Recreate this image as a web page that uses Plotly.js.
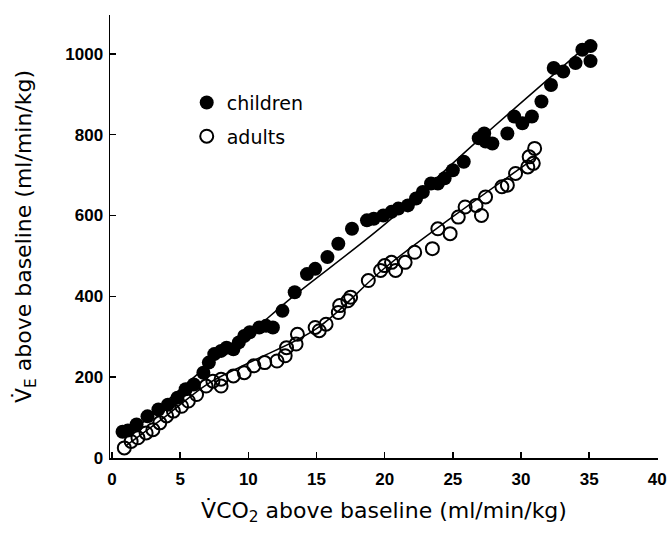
<!DOCTYPE html>
<html>
<head>
<meta charset="utf-8">
<script src="https://cdn.plot.ly/plotly-3.0.1.min.js"></script>
<style>html,body{margin:0;padding:0;background:#fff;}#chart{width:670px;height:540px;}</style>
</head>
<body>
<div id="chart"></div>
<script>
// children (filled circles)
var childrenX = [0.77,1.16,1.8,2.6,3.4,4.1,4.8,5.4,6.0,6.7,7.1,7.5,8.0,8.4,8.9,9.3,9.7,10.1,10.8,11.3,11.8,12.5,13.4,14.3,14.9,15.8,16.6,17.6,18.7,19.2,19.9,20.5,21.0,21.7,22.3,22.8,23.4,23.9,24.4,25.0,25.8,26.9,27.3,27.4,27.9,29.0,29.5,30.1,30.8,31.5,32.2,32.4,33.1,34.0,34.5,35.1,35.1];
var childrenY = [65,68,83,103,120,132,149,170,182,211,236,257,265,273,269,286,302,311,323,327,323,364,410,455,468,497,530,567,588,592,600,609,617,625,642,658,679,679,692,712,733,791,803,783,778,803,845,828,845,882,923,965,956,977,1010,1019,982];
// adults (open circles)
var adultsX = [0.9,1.4,1.9,2.5,3.0,3.5,4.0,4.5,5.1,5.6,6.2,6.9,7.4,8.0,8.0,8.9,9.7,10.4,11.2,12.1,12.7,12.8,13.5,13.6,14.9,15.2,15.7,16.6,16.7,17.3,17.5,18.8,19.7,20.0,20.5,20.8,21.5,22.2,23.5,23.9,24.8,25.4,25.9,26.7,27.1,27.4,28.6,29.0,29.6,30.5,30.6,30.9,31.0];
var adultsY = [25,41,50,62,70,87,104,116,128,141,157,178,190,195,178,203,211,228,236,240,253,273,282,306,323,315,331,360,377,389,398,439,464,476,484,464,484,509,518,567,555,596,621,625,600,646,671,675,704,720,745,729,766];
// fitted curves
var childrenFitX = [2.0,7.0,10.0,13.0,20.0,27.0,34.8];
var childrenFitY = [80,228,305,392,578,790,1019];
var adultsFitX = [1.0,4.0,7.0,10.0,15.0,20.0,25.0,31.0];
var adultsFitY = [30,105,183,235,320,470,597,742];
var xTicks = [0,5,10,15,20,25,30,35,40];
var yTicks = [0,200,400,600,800,1000];

var fontFam = '"DejaVu Sans", "Liberation Sans", sans-serif';
var tickFont = {family: '"Liberation Sans", Arial, sans-serif', size: 17, weight: 'bold'};
var traces = [
  {x: childrenFitX, y: childrenFitY, mode: 'lines', line: {color: '#000', width: 1.5, shape: 'spline'}, showlegend: false, hoverinfo: 'skip'},
  {x: adultsFitX, y: adultsFitY, mode: 'lines', line: {color: '#000', width: 1.5, shape: 'spline'}, showlegend: false, hoverinfo: 'skip'},
  {x: childrenX, y: childrenY, mode: 'markers', name: 'children', legendgroup: 'c',
   marker: {symbol: 'circle', size: 14, color: '#000', line: {width: 0}}},
  {x: adultsX, y: adultsY, mode: 'markers', name: 'adults', legendgroup: 'a',
   marker: {symbol: 'circle-open', size: 13, color: '#000', line: {width: 2, color: '#000'}}}
];
var layout = {
  width: 670, height: 540,
  margin: {l: 110, r: 12, t: 15, b: 82},
  paper_bgcolor: '#fff', plot_bgcolor: '#fff',
  font: {family: fontFam, color: '#000'},
  xaxis: {
    range: [-0.15, 40.05], tickvals: xTicks, ticktext: xTicks.map(String),
    showline: true, linecolor: '#000', linewidth: 1.5, mirror: false,
    ticks: 'inside', ticklen: 6, tickwidth: 1.5, tickcolor: '#000',
    showgrid: false, zeroline: false, automargin: false,
    ticklabelstandoff: 5,
    tickfont: tickFont,
    title: {text: 'V\u0307CO<sub>2</sub> above baseline (ml/min/kg)', font: {family: fontFam, size: 22}, standoff: 14}
  },
  yaxis: {
    range: [0, 1096], tickvals: yTicks, ticktext: yTicks.map(String),
    showline: true, linecolor: '#000', linewidth: 1.5, mirror: false,
    ticks: 'inside', ticklen: 6, tickwidth: 1.5, tickcolor: '#000',
    showgrid: false, zeroline: false, automargin: false,
    ticklabelstandoff: 2,
    tickfont: tickFont,
    title: {text: 'V\u0307<sub>E</sub> above baseline (ml/min/kg)', font: {family: fontFam, size: 22}, standoff: 27}
  },
  legend: {
    x: 0.14, y: 0.845, xanchor: 'left', yanchor: 'top',
    bgcolor: 'rgba(0,0,0,0)', borderwidth: 0,
    font: {family: fontFam, size: 19},
    traceorder: 'grouped', tracegroupgap: 6
  },
  showlegend: true
};
Plotly.newPlot('chart', traces, layout, {displayModeBar: false, staticPlot: true});
</script>
</body>
</html>
